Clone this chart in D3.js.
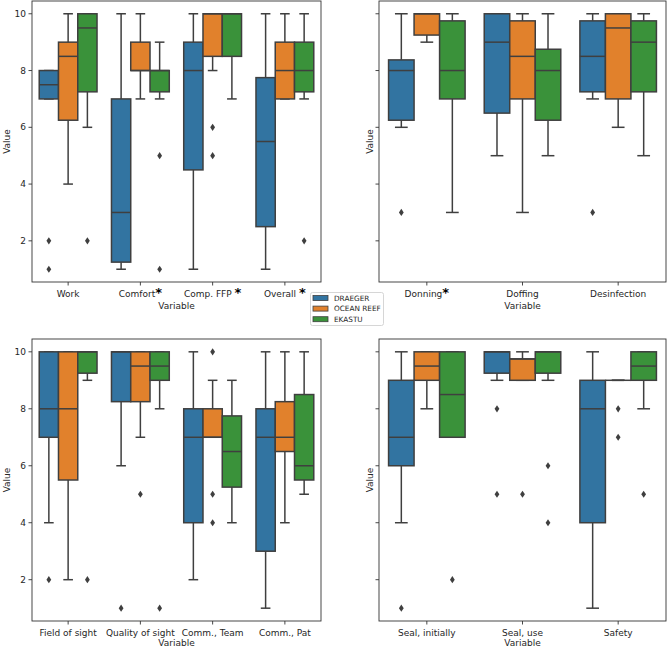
<!DOCTYPE html>
<html><head><meta charset="utf-8">
<script src="https://cdn.jsdelivr.net/npm/d3@7"></script>
<style>body{margin:0;background:#fff}svg{display:block}text{font-family:"DejaVu Sans",sans-serif;fill:#262626}</style>
</head><body><svg id="c" width="669" height="648"></svg>
<script>
const hues = ["DRAEGER", "OCEAN REEF", "EKASTU"];
const hueColors = ["#3274a1", "#e1812c", "#3a923a"];
const yTicks = [2, 4, 6, 8, 10];

// stats per category: [whiskerLow, q1, median, q3, whiskerHigh]
const p1Cats = ["Work", "Comfort", "Comp. FFP", "Overall"];
const p1Stars = ["", "*", " *", " *"];
const p1Draeger = [[7,7,7.5,8,8],[1,1.25,3,7,10],[1,4.5,8,9,10],[1,2.5,5.5,7.75,10]];
const p1Ocean   = [[4,6.25,8.5,9,10],[7,8,8,9,10],[8,8.5,10,10,10],[7,7,8,9,10]];
const p1Ekastu  = [[6,7.25,9.5,10,10],[7,7.25,8,8,9],[7,8.5,10,10,10],[7,7.25,8,9,10]];
const p1OutDraeger = [[2,1],[],[],[]];
const p1OutOcean   = [[],[],[6,5],[]];
const p1OutEkastu  = [[2],[5,1],[],[2]];

const p2Cats = ["Donning", "Doffing", "Desinfection"];
const p2Stars = ["*", "", ""];
const p2Draeger = [[6,6.25,8,8.375,10],[5,6.5,9,10,10],[7,7.25,8.5,9.75,10]];
const p2Ocean   = [[9,9.25,10,10,10],[3,7,8.5,9.75,10],[6,7,9.5,10,10]];
const p2Ekastu  = [[3,7,8,9.75,10],[5,6.25,8,8.75,10],[5,7.25,9,9.75,10]];
const p2OutDraeger = [[3],[],[3]];
const p2OutOcean   = [[],[],[]];
const p2OutEkastu  = [[],[],[]];

const p3Cats = ["Field of sight", "Quality of sight", "Comm., Team", "Comm., Pat"];
const p3Stars = ["", "", "", ""];
const p3Draeger = [[4,7,8,10,10],[6,8.25,10,10,10],[2,4,7,8,10],[1,3,7,8,10]];
const p3Ocean   = [[2,5.5,8,10,10],[7,8.25,9.5,10,10],[7,7,7,8,9],[4,6.5,7,8.25,10]];
const p3Ekastu  = [[9,9.25,10,10,10],[8,9,9.5,10,10],[4,5.25,6.5,7.75,9],[5,5.5,6,8.5,10]];
const p3OutDraeger = [[2],[1],[],[]];
const p3OutOcean   = [[],[5],[10,5,4],[]];
const p3OutEkastu  = [[2],[1],[],[]];

const p4Cats = ["Seal, initially", "Seal, use", "Safety"];
const p4Stars = ["", "", ""];
const p4Draeger = [[4,6,7,9,10],[9,9.25,10,10,10],[1,4,8,9,10]];
const p4Ocean   = [[8,9,9.5,10,10],[9,9,9.75,9.75,10],[9,9,9,9,9]];
const p4Ekastu  = [[7,7,8.5,10,10],[9,9.25,10,10,10],[8,9,9.5,10,10]];
const p4OutDraeger = [[1],[8,5],[]];
const p4OutOcean   = [[],[5],[8,7]];
const p4OutEkastu  = [[2],[6,4],[5]];

const panels = [
  {cats:p1Cats, stars:p1Stars, stats:[p1Draeger,p1Ocean,p1Ekastu], outs:[p1OutDraeger,p1OutOcean,p1OutEkastu], x0:32, x1:321, y0:1, y1:282, labels:true, varOff:26.5},
  {cats:p2Cats, stars:p2Stars, stats:[p2Draeger,p2Ocean,p2Ekastu], outs:[p2OutDraeger,p2OutOcean,p2OutEkastu], x0:379, x1:666, y0:1, y1:282, labels:false, varOff:26.5},
  {cats:p3Cats, stars:p3Stars, stats:[p3Draeger,p3Ocean,p3Ekastu], outs:[p3OutDraeger,p3OutOcean,p3OutEkastu], x0:32, x1:321, y0:339, y1:621, labels:true, varOff:25},
  {cats:p4Cats, stars:p4Stars, stats:[p4Draeger,p4Ocean,p4Ekastu], outs:[p4OutDraeger,p4OutOcean,p4OutEkastu], x0:379, x1:666, y0:339, y1:621, labels:false, varOff:25}
];

const svg = d3.select("#c");
const lineCol = "#3f3f3f";

panels.forEach(p => {
  const g = svg.append("g");
  const x = d3.scaleBand().domain(p.cats).range([p.x0, p.x1]).padding(0);
  const y = d3.scaleLinear().domain([0.55, 10.45]).range([p.y1, p.y0]);
  const hx = d3.scaleBand().domain(hues).range([-0.4 * x.bandwidth(), 0.4 * x.bandwidth()]).padding(0);
  const bw = hx.bandwidth();

  hues.forEach((h, hi) => {
    p.cats.forEach((c, ci) => {
      const [lo, q1, md, q3, up] = p.stats[hi][ci];
      const cx = x(c) + x.bandwidth() / 2 + hx(h) + bw / 2;
      const bg = g.append("g");
      bg.append("line").attr("x1", cx).attr("x2", cx).attr("y1", y(q3)).attr("y2", y(up)).attr("stroke", lineCol).attr("stroke-width", 1.5);
      bg.append("line").attr("x1", cx).attr("x2", cx).attr("y1", y(q1)).attr("y2", y(lo)).attr("stroke", lineCol).attr("stroke-width", 1.5);
      [lo, up].forEach(v => bg.append("line").attr("x1", cx - bw / 4).attr("x2", cx + bw / 4).attr("y1", y(v)).attr("y2", y(v)).attr("stroke", lineCol).attr("stroke-width", 1.5));
      bg.append("rect").attr("x", cx - bw / 2).attr("width", bw).attr("y", y(q3)).attr("height", Math.max(0, y(q1) - y(q3)))
        .attr("fill", hueColors[hi]).attr("stroke", lineCol).attr("stroke-width", 1.5);
      bg.append("line").attr("x1", cx - bw / 2).attr("x2", cx + bw / 2).attr("y1", y(md)).attr("y2", y(md)).attr("stroke", lineCol).attr("stroke-width", 1.5);
      p.outs[hi][ci].forEach(v => {
        bg.append("path").attr("d", "M0,-3.6L2.4,0L0,3.6L-2.4,0Z").attr("transform", `translate(${cx},${y(v)})`).attr("fill", lineCol);
      });
    });
  });

  g.append("rect").attr("x", p.x0).attr("y", p.y0).attr("width", p.x1 - p.x0).attr("height", p.y1 - p.y0)
    .attr("fill", "none").attr("stroke", "#333").attr("stroke-width", 0.9);

  yTicks.forEach(t => {
    g.append("line").attr("x1", p.x0 - 3.5).attr("x2", p.x0).attr("y1", y(t)).attr("y2", y(t)).attr("stroke", "#333").attr("stroke-width", 0.9);
    if (p.labels) g.append("text").attr("x", p.x0 - 6).attr("y", y(t)).attr("dy", "0.35em").attr("text-anchor", "end").attr("font-size", 9).text(t);
  });
  p.cats.forEach((c, i) => {
    const cx = x(c) + x.bandwidth() / 2;
    g.append("line").attr("x1", cx).attr("x2", cx).attr("y1", p.y1).attr("y2", p.y1 + 3.5).attr("stroke", "#333").attr("stroke-width", 0.9);
    const t = g.append("text").attr("x", cx).attr("y", p.y1 + 14.5).attr("text-anchor", "middle").attr("font-size", 9);
    t.append("tspan").text(c);
    if (p.stars[i]) {
      const s = p.stars[i];
      if (s.startsWith(" ")) t.append("tspan").text("\u00a0");
      t.append("tspan").attr("font-size", 13).attr("font-weight", "bold").attr("fill", "#000").text("*");
    }
  });
  g.append("text").attr("x", (p.x0 + p.x1) / 2).attr("y", p.y1 + p.varOff).attr("text-anchor", "middle").attr("font-size", 9).text("Variable");
  const vx = p.labels ? p.x0 - 22.5 : p.x0 - 6.5;
  g.append("text").attr("transform", `translate(${vx},${(p.y0 + p.y1) / 2}) rotate(-90)`).attr("text-anchor", "middle").attr("font-size", 9).text("Value");
});

const lg = svg.append("g");
lg.append("rect").attr("x", 310.5).attr("y", 292.5).attr("width", 73).attr("height", 33).attr("rx", 2)
  .attr("fill", "#fff").attr("fill-opacity", 0.8).attr("stroke", "#ccc").attr("stroke-width", 0.8);
hues.forEach((h, i) => {
  const yy = 298 + i * 10.6;
  lg.append("rect").attr("x", 313).attr("y", yy - 2.5).attr("width", 15).attr("height", 5).attr("fill", hueColors[i]).attr("stroke", lineCol).attr("stroke-width", 0.8);
  lg.append("text").attr("x", 334).attr("y", yy).attr("dy", "0.35em").attr("font-size", 7.3).text(h);
});
</script></body></html>
